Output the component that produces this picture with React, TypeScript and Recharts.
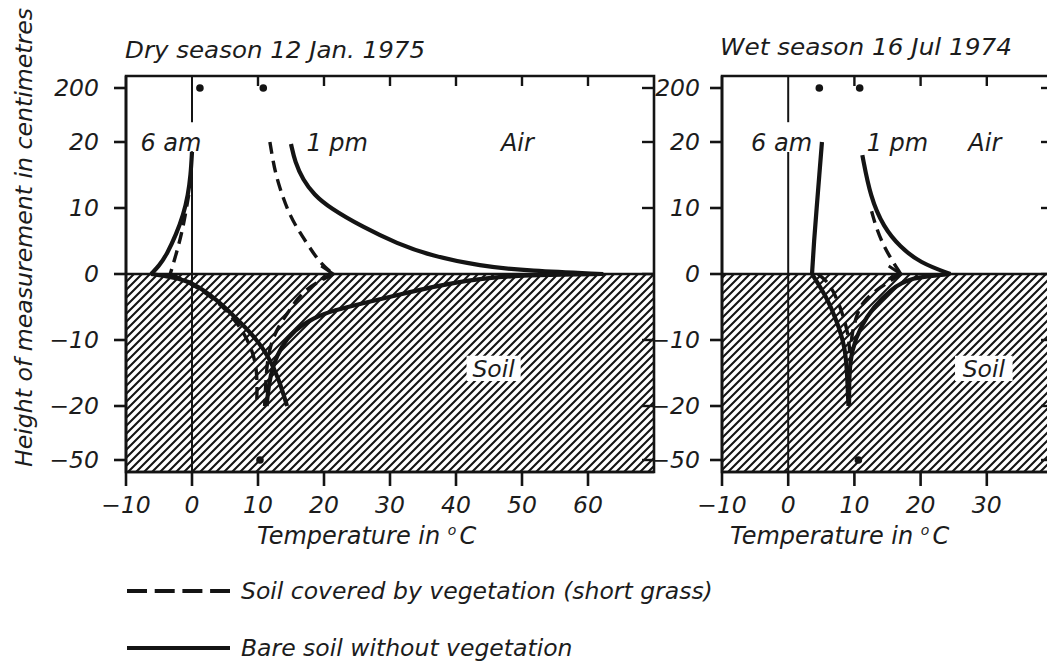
import React from 'react';
import {
  ComposedChart,
  Line,
  Scatter,
  XAxis,
  YAxis,
  ReferenceArea,
  ReferenceLine,
  ReferenceDot,
} from 'recharts';

// [temperature in °C, height in cm]
type Pt = [number, number];

// ---- Dry season, 12 Jan. 1975 ----
const dryAmBareAir: Pt[] = [[0, 18.5], [-0.2, 15], [-0.6, 12], [-1.3, 9], [-2.4, 6], [-3.8, 3], [-5, 1.2], [-6.2, 0]];
const dryAmBareSoil: Pt[] = [[-6.2, 0], [-3, -0.45], [0.2, -1.3], [3.8, -3.9], [6.8, -6.8], [9.5, -9.5], [11.6, -12.5], [13.2, -16], [14.4, -20]];
const dryAmGrassAir: Pt[] = [[-0.5, 12], [-1.0, 9], [-1.6, 6], [-2.4, 3], [-3.3, 0]];
const dryAmGrassSoil: Pt[] = [[-3.3, 0], [0, -1.5], [3, -3.5], [5.8, -6], [8.3, -9.5], [9.6, -13], [9.9, -16], [9.8, -20]];
const dryPmBareAir: Pt[] = [[15, 19.7], [15.6, 17], [16.8, 14.3], [18.5, 12], [20.9, 10], [25.9, 7.1], [31.1, 4.6], [36.1, 2.8], [43.6, 1.2], [51.2, 0.45], [62.3, 0]];
const dryPmBareSoil: Pt[] = [[62.3, 0], [52, -0.15], [45, -0.5], [38, -1.6], [31, -3.2], [26, -4.4], [21.5, -5.5], [18.5, -6.6], [15.5, -8.5], [13.5, -11], [12.2, -14], [11.6, -17], [11.3, -20]];
const dryPmGrassAir: Pt[] = [[11.8, 20], [12.3, 17], [12.9, 14.2], [14.8, 8.6], [17.4, 4.7], [19.4, 1.6], [21.4, 0]];
const dryPmGrassSoil: Pt[] = [[21.4, 0], [16.8, -2.4], [14.8, -5.5], [13, -8], [11.8, -11], [11.3, -14], [11, -20]];
const dryDots: Pt[] = [[1.2, 200], [10.8, 200], [10.3, -50]];

// ---- Wet season, 16 Jul 1974 ----
const wetAmBareAir: Pt[] = [[5.1, 20], [4.7, 15], [4.3, 10], [3.9, 5], [3.6, 0]];
const wetAmBareSoil: Pt[] = [[3.6, 0], [5.8, -3.5], [7.3, -7], [8.6, -11], [8.9, -15], [9.1, -20]];
const wetAmGrassSoil: Pt[] = [[4.5, 0], [6.3, -1.4], [7.9, -5], [9.1, -9], [9.3, -12]];
const wetPmBareAir: Pt[] = [[11.2, 18], [12.4, 11.7], [14.4, 7.1], [16.9, 4.1], [19.9, 1.7], [24.5, 0]];
const wetPmBareSoil: Pt[] = [[24.5, 0], [18.4, -0.5], [15.4, -2.4], [12.9, -5], [10.9, -8], [9.6, -11.5], [9.2, -15], [9.2, -20]];
const wetPmGrassAir: Pt[] = [[12.6, 9.5], [13.3, 7], [14.4, 4.3], [15.6, 2.2], [17, 0]];
const wetPmGrassSoil: Pt[] = [[17, 0], [13.9, -2], [11.4, -4], [10.4, -6], [9.6, -9], [9.4, -12]];
const wetDots: Pt[] = [[4.7, 200], [10.8, 200], [10.6, -50]];

// Axis ticks
const heightTicksCm = [-50, -20, -10, 0, 10, 20, 200];
const dryTempTicks = [-10, 0, 10, 20, 30, 40, 50, 60];
const dryTopTicks = [10, 20, 30, 40, 50, 60];
const wetTempTicks = [-10, 0, 10, 20, 30];
const wetTopTicks = [10, 20, 30];

const legendItems = [
  { label: 'Soil covered by vegetation (short grass)', dashed: true },
  { label: 'Bare soil without vegetation', dashed: false },
];

const FONT = "'DejaVu Sans', 'Liberation Sans', sans-serif";
const INK = '#141414';
const TEXT = '#1c1c1c';

// Height axis is broken: linear between -20 and 20 cm, compressed beyond.
const OUTER_STEP = 54 / 66;
function lvl(h: number): number {
  if (h > 20) return 2 + ((h - 20) / 180) * OUTER_STEP;
  if (h < -20) return -2 + ((h + 20) / 30) * OUTER_STEP;
  return h / 10;
}
const heightTickLevels = heightTicksCm.map(lvl);

const fmtNum = (v: number) => (v < 0 ? `\u2212${-v}` : `${v}`);
const fmtHeight = (v: number) => {
  const i = heightTickLevels.findIndex((l) => Math.abs(l - v) < 1e-6);
  return i >= 0 ? fmtNum(heightTicksCm[i]) : '';
};

const toPoints = (pts: Pt[]) => pts.map(([t, h]) => ({ t, y: lvl(h) }));

type Series = { pts: Pt[]; dashed?: boolean; arrow?: boolean };

const arrowDot = (n: number) => (props: any) => {
  const { cx, cy, index } = props;
  if (index !== n - 1 || cx == null || cy == null) return <g key={`a${index}`} />;
  return (
    <path
      key={`a${index}`}
      d={`M${cx - 12},${cy - 8} L${cx},${cy} L${cx - 12},${cy + 5}`}
      fill="none"
      stroke={INK}
      strokeWidth={3}
    />
  );
};

const TICK_FONT = 23.5;
const tickStyle: React.CSSProperties = {
  fontSize: TICK_FONT,
  fontStyle: 'italic',
  fontFamily: FONT,
  fill: TEXT,
};

const BottomTick = (props: any) => (
  <text x={props.x} y={props.y} dy="0.71em" textAnchor="middle" style={tickStyle}>
    {fmtNum(props.payload.value)}
  </text>
);

const LeftTick = (props: any) => (
  <text x={props.x} y={props.y} dy="0.36em" textAnchor="end" style={tickStyle}>
    {fmtHeight(props.payload.value)}
  </text>
);

type Note = { text: string; t: number; lv: number };

type PanelProps = {
  left: number;
  width: number;
  rightMargin: number;
  yAxisWidth: number;
  yTickMargin: number;
  xMax: number;
  pxPerDeg: number;
  bottomTicks: number[];
  topTicks: number[];
  series: Series[];
  dots: Pt[];
  notes: Note[];
  soilBox: { x1: number; x2: number };
  zeroGap: [number, number];
  patternId: string;
};

const frame = { stroke: INK, strokeWidth: 2.6 };
const PX_PER_LEVEL = 66;

function Panel(p: PanelProps) {
  const topTickLen = 10 / PX_PER_LEVEL;
  const rightTickLen = 12 / p.pxPerDeg;
  return (
    <div style={{ position: 'absolute', left: p.left, top: 0 }}>
      <ComposedChart width={p.width} height={560} margin={{ top: 76, right: p.rightMargin, bottom: 0, left: 0 }}>
        <defs>
          <pattern id={p.patternId} patternUnits="userSpaceOnUse" width={8} height={8}>
            <path d="M-2,2 L2,-2 M0,8 L8,0 M6,10 L10,6" stroke={INK} strokeWidth={2.1} />
          </pattern>
        </defs>
        <XAxis
          xAxisId="b"
          type="number"
          dataKey="t"
          orientation="bottom"
          domain={[-10, p.xMax]}
          allowDataOverflow
          ticks={p.bottomTicks}
          interval={0}
          height={88}
          tickSize={14}
          tickMargin={10}
          axisLine={frame}
          tickLine={frame}
          tick={<BottomTick />}
        />
        <YAxis
          yAxisId="l"
          type="number"
          dataKey="y"
          domain={[-3, 3]}
          allowDataOverflow
          ticks={heightTickLevels}
          interval={0}
          width={p.yAxisWidth}
          tickSize={12}
          tickMargin={p.yTickMargin}
          axisLine={frame}
          tickLine={frame}
          tick={<LeftTick />}
        />

        {/* soil: hatched below the surface */}
        <ReferenceArea
          xAxisId="b"
          yAxisId="l"
          x1={-10}
          x2={p.xMax}
          y1={-3}
          y2={0}
          fill={`url(#${p.patternId})`}
          fillOpacity={1}
          stroke="none"
        />
        <ReferenceArea
          xAxisId="b"
          yAxisId="l"
          x1={p.soilBox.x1}
          x2={p.soilBox.x2}
          y1={-1.62}
          y2={-1.24}
          fill="#ffffff"
          fillOpacity={1}
          stroke="none"
          label={{
            value: 'Soil',
            position: 'center',
            fontSize: 23.5,
            fontStyle: 'italic',
            fontFamily: FONT,
            fill: TEXT,
          }}
        />
        {/* plot frame */}
        <ReferenceArea
          xAxisId="b"
          yAxisId="l"
          x1={-10}
          x2={p.xMax}
          y1={-3}
          y2={3}
          fill="none"
          fillOpacity={0}
          stroke={INK}
          strokeWidth={2.6}
        />
        {/* inward ticks along the top and right edges */}
        {p.topTicks.map((t) => (
          <ReferenceLine
            key={`tt${t}`}
            xAxisId="b"
            yAxisId="l"
            segment={[{ x: t, y: 3 }, { x: t, y: 3 - topTickLen }]}
            stroke={INK}
            strokeWidth={2.4}
          />
        ))}
        {heightTickLevels.map((l) => (
          <ReferenceLine
            key={`rt${l}`}
            xAxisId="b"
            yAxisId="l"
            segment={[{ x: p.xMax - rightTickLen, y: l }, { x: p.xMax, y: l }]}
            stroke={INK}
            strokeWidth={2.4}
          />
        ))}
        <ReferenceLine xAxisId="b" yAxisId="l" y={0} stroke={INK} strokeWidth={2.6} />
        <ReferenceLine
          xAxisId="b"
          yAxisId="l"
          segment={[{ x: 0, y: 3 }, { x: 0, y: p.zeroGap[0] }]}
          stroke={INK}
          strokeWidth={2}
        />
        <ReferenceLine
          xAxisId="b"
          yAxisId="l"
          segment={[{ x: 0, y: p.zeroGap[1] }, { x: 0, y: -3 }]}
          stroke={INK}
          strokeWidth={2}
        />

        {p.notes.map((n) => (
          <ReferenceDot
            key={n.text}
            xAxisId="b"
            yAxisId="l"
            x={n.t}
            y={n.lv}
            r={1}
            fill="none"
            stroke="none"
            label={{
              value: n.text,
              position: 'center',
              fontSize: 24,
              fontStyle: 'italic',
              fontFamily: FONT,
              fill: TEXT,
            }}
          />
        ))}

        {p.series.map((s, i) => (
          <Line
            key={`s${i}`}
            xAxisId="b"
            yAxisId="l"
            data={toPoints(s.pts)}
            dataKey="y"
            type="basis"
            stroke={INK}
            strokeWidth={s.dashed ? 3.4 : 4.2}
            strokeDasharray={s.dashed ? '12 7' : undefined}
            dot={s.arrow ? arrowDot(s.pts.length) : false}
            activeDot={false}
            isAnimationActive={false}
          />
        ))}

        <Scatter
          xAxisId="b"
          yAxisId="l"
          data={toPoints(p.dots)}
          dataKey="y"
          isAnimationActive={false}
          shape={(d: any) => <circle cx={d.cx} cy={d.cy} r={3.8} fill={INK} />}
        />
      </ComposedChart>
    </div>
  );
}

const drySeries: Series[] = [
  { pts: dryAmBareAir },
  { pts: dryAmBareSoil },
  { pts: dryAmGrassAir, dashed: true },
  { pts: dryAmGrassSoil, dashed: true },
  { pts: dryPmBareAir },
  { pts: dryPmBareSoil },
  { pts: dryPmGrassAir, dashed: true, arrow: true },
  { pts: dryPmGrassSoil, dashed: true },
];

const wetSeries: Series[] = [
  { pts: wetAmBareAir },
  { pts: wetAmBareSoil },
  { pts: wetAmGrassSoil, dashed: true },
  { pts: wetPmBareAir },
  { pts: wetPmBareSoil },
  { pts: wetPmGrassAir, dashed: true, arrow: true },
  { pts: wetPmGrassSoil, dashed: true },
];

const textStyle = { fontFamily: FONT, fontStyle: 'italic' as const, fill: TEXT };

export default function App() {
  return (
    <div
      style={{
        position: 'fixed',
        left: 0,
        top: 0,
        width: 1047,
        height: 664,
        overflow: 'hidden',
        background: '#ffffff',
      }}
    >
      <Panel
        left={0}
        width={680}
        rightMargin={26}
        yAxisWidth={126}
        yTickMargin={15}
        xMax={70}
        pxPerDeg={6.6}
        bottomTicks={dryTempTicks}
        topTicks={dryTopTicks}
        series={drySeries}
        dots={dryDots}
        notes={[
          { text: '6 am', t: -3.2, lv: 2.0 },
          { text: '1 pm', t: 22, lv: 2.0 },
          { text: 'Air', t: 49.3, lv: 2.0 },
        ]}
        soilBox={{ x1: 41.6, x2: 49.8 }}
        zeroGap={[2.3, 1.86]}
        patternId="hatchDry"
      />
      <Panel
        left={600}
        width={460}
        rightMargin={7}
        yAxisWidth={122}
        yTickMargin={10}
        xMax={40}
        pxPerDeg={6.62}
        bottomTicks={wetTempTicks}
        topTicks={wetTopTicks}
        series={wetSeries}
        dots={wetDots}
        notes={[
          { text: '6 am', t: -1, lv: 2.0 },
          { text: '1 pm', t: 16.5, lv: 2.0 },
          { text: 'Air', t: 29.7, lv: 2.0 },
        ]}
        soilBox={{ x1: 25.2, x2: 33.9 }}
        zeroGap={[2.3, 1.85]}
        patternId="hatchWet"
      />

      <svg
        width={1047}
        height={664}
        style={{ position: 'absolute', left: 0, top: 0, pointerEvents: 'none' }}
      >
        <text x={125} y={58} fontSize={23.5} textLength={300} lengthAdjust="spacingAndGlyphs" {...textStyle}>
          Dry season 12 Jan. 1975
        </text>
        <text x={720} y={55} fontSize={23.5} textLength={292} lengthAdjust="spacingAndGlyphs" {...textStyle}>
          Wet season 16 Jul 1974
        </text>
        <text
          transform="translate(32,467) rotate(-90)"
          fontSize={23.5}
          textLength={459}
          lengthAdjust="spacingAndGlyphs"
          {...textStyle}
        >
          Height of measurement in centimetres
        </text>
        {[257, 730].map((x) => (
          <text key={x} x={x} y={544} fontSize={24} {...textStyle}>
            Temperature in{' '}
            <tspan dy={-9} fontSize={14}>
              o
            </tspan>
            <tspan dy={9} dx={3}>
              C
            </tspan>
          </text>
        ))}
        {legendItems.map((item, i) => {
          const y = 591 + i * 57;
          return (
            <g key={item.label}>
              <line
                x1={127}
                x2={230}
                y1={y}
                y2={y}
                stroke={INK}
                strokeWidth={4.2}
                strokeDasharray={item.dashed ? '20 7.7' : undefined}
              />
              <text x={241} y={y + 8} fontSize={23.5} {...textStyle}>
                {item.label}
              </text>
            </g>
          );
        })}
      </svg>
    </div>
  );
}
